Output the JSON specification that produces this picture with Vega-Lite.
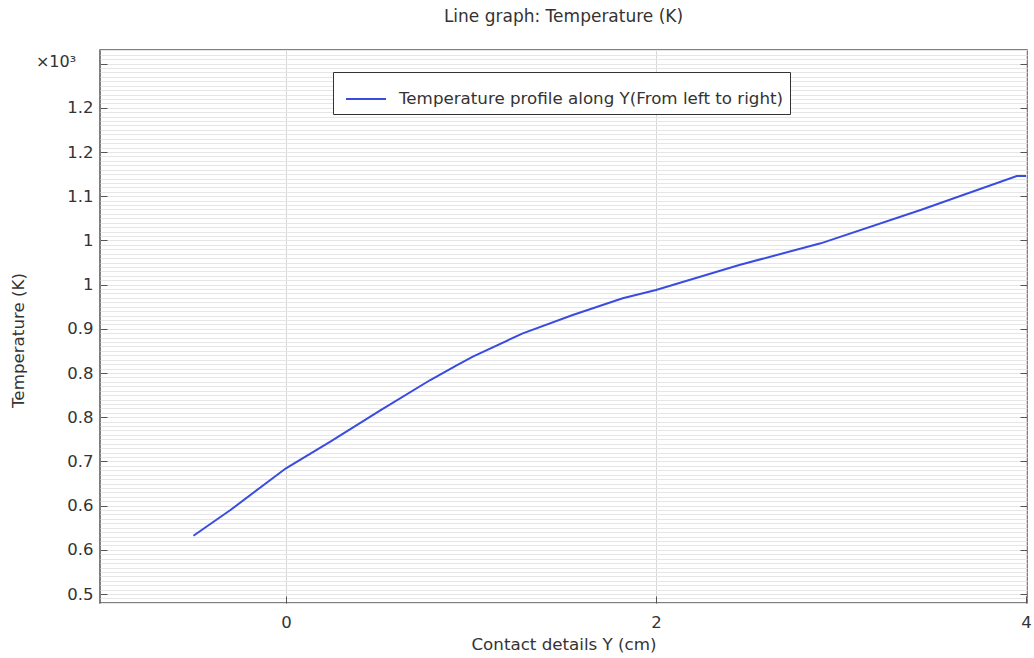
{
  "$schema": "https://vega.github.io/schema/vega-lite/v6.json",
  "width": 927,
  "height": 553,
  "autosize": "none",
  "padding": {"left": 100, "top": 50, "right": 7, "bottom": 55},
  "background": "white",
  "config": {
    "view": {"stroke": "#555", "strokeWidth": 1.5},
    "font": "DejaVu Sans"
  },
  "title": {
    "text": "Line graph: Temperature (K)",
    "fontSize": 17,
    "font": "DejaVu Sans",
    "fontWeight": "normal",
    "color": "#333",
    "offset": 16
  },
  "resolve": {"axis": {"y": "independent"}},
  "layer": [
    {
      "data": {
        "values": [
          {"y_cm": -0.5, "temperature_K": 585.7},
          {"y_cm": -0.3, "temperature_K": 623.5},
          {"y_cm": 0.0, "temperature_K": 684.9},
          {"y_cm": 0.24, "temperature_K": 724.0},
          {"y_cm": 0.51, "temperature_K": 770.0},
          {"y_cm": 0.78, "temperature_K": 814.7},
          {"y_cm": 0.92, "temperature_K": 836.0},
          {"y_cm": 1.01, "temperature_K": 849.0},
          {"y_cm": 1.28, "temperature_K": 883.4},
          {"y_cm": 1.55, "temperature_K": 910.3},
          {"y_cm": 1.82, "temperature_K": 934.9},
          {"y_cm": 2.0, "temperature_K": 947.1},
          {"y_cm": 2.45, "temperature_K": 983.9},
          {"y_cm": 2.89, "temperature_K": 1015.7},
          {"y_cm": 3.43, "temperature_K": 1064.8},
          {"y_cm": 3.95, "temperature_K": 1114.7},
          {"y_cm": 4.0, "temperature_K": 1114.7}
        ]
      },
      "mark": {"type": "line", "strokeWidth": 2},
      "encoding": {
        "x": {
          "field": "y_cm",
          "type": "quantitative",
          "scale": {"domain": [-1.005, 4.005], "nice": false, "zero": false},
          "axis": {
            "title": "Contact details Y (cm)",
            "values": [0, 2, 4],
            "format": "~g",
            "grid": true,
            "gridColor": "#d8d8d8",
            "tickSize": -7,
            "tickColor": "#555",
            "domain": false,
            "labelPadding": 18,
            "labelFontSize": 16.5,
            "labelColor": "#333",
            "labelFlush": false,
            "titleFontSize": 16.7,
            "titleFontWeight": "normal",
            "titleColor": "#333",
            "titlePadding": 6
          }
        },
        "y": {
          "field": "temperature_K",
          "type": "quantitative",
          "scale": {"domain": [486.8, 1300], "nice": false, "zero": false},
          "axis": {
            "title": "Temperature (K)",
            "orient": "left",
            "values": [487, 493.5, 500, 506.5, 513, 519.5, 526, 532.5, 539, 545.5, 552, 558.5, 565, 571.5, 578, 584.5, 591, 597.5, 604, 610.5, 617, 623.5, 630, 636.5, 643, 649.5, 656, 662.5, 669, 675.5, 682, 688.5, 695, 701.5, 708, 714.5, 721, 727.5, 734, 740.5, 747, 753.5, 760, 766.5, 773, 779.5, 786, 792.5, 799, 805.5, 812, 818.5, 825, 831.5, 838, 844.5, 851, 857.5, 864, 870.5, 877, 883.5, 890, 896.5, 903, 909.5, 916, 922.5, 929, 935.5, 942, 948.5, 955, 961.5, 968, 974.5, 981, 987.5, 994, 1000.5, 1007, 1013.5, 1020, 1026.5, 1033, 1039.5, 1046, 1052.5, 1059, 1065.5, 1072, 1078.5, 1085, 1091.5, 1098, 1104.5, 1111, 1117.5, 1124, 1130.5, 1137, 1143.5, 1150, 1156.5, 1163, 1169.5, 1176, 1182.5, 1189, 1195.5, 1202, 1208.5, 1215, 1221.5, 1228, 1234.5, 1241, 1247.5, 1254, 1260.5, 1267, 1273.5, 1280, 1286.5, 1293, 1299.5],
            "grid": true,
            "gridColor": "#e6e6e6",
            "gridWidth": 1,
            "tickSize": -7,
            "tickColor": {
              "condition": {"test": "abs((datum.value-500)/65 - round((datum.value-500)/65)) < 0.01", "value": "#555"},
              "value": "transparent"
            },
            "domain": false,
            "labelExpr": "abs((datum.value-500)/65 - round((datum.value-500)/65)) < 0.01 ? ['0.5','0.6','0.6','0.7','0.8','0.8','0.9','1','1','1.1','1.2','1.2',''][round((datum.value-500)/65)] : ''",
            "labelOverlap": false,
            "labelBound": false,
            "labelPadding": 14,
            "labelFontSize": 16.5,
            "labelColor": "#333",
            "titleFontSize": 16.7,
            "titleFontWeight": "normal",
            "titleColor": "#333",
            "titleX": -82,
            "titleY": 290,
            "titleBaseline": "middle"
          }
        },
        "color": {
          "datum": "Temperature profile along Y(From left to right)",
          "type": "nominal",
          "scale": {"range": ["#3a4ce0"]},
          "legend": {
            "title": null,
            "orient": "none",
            "legendX": 233,
            "legendY": 22,
            "fillColor": "white",
            "strokeColor": "#333",
            "padding": 6,
            "symbolOffset": 6,
            "cornerRadius": 0,
            "symbolType": "stroke",
            "symbolSize": 1600,
            "symbolStrokeWidth": 2,
            "labelFontSize": 16.7,
            "labelColor": "#333",
            "labelOffset": 12,
            "labelLimit": 600
          }
        }
      }
    },
    {
      "data": {"values": [{"label": "×10³"}]},
      "mark": {"type": "text", "fontSize": 16, "color": "#333", "align": "center", "baseline": "middle", "dx": -44, "dy": 12},
      "encoding": {
        "text": {"field": "label", "type": "nominal"},
        "x": {"datum": -1.005, "type": "quantitative"},
        "y": {
          "datum": 1300,
          "type": "quantitative",
          "axis": {
            "orient": "right",
            "title": null,
            "values": [500, 565, 630, 695, 760, 825, 890, 955, 1020, 1085, 1150, 1215, 1280],
            "labels": false,
            "grid": false,
            "domain": false,
            "tickSize": -7,
            "tickColor": "#555"
          }
        }
      }
    }
  ]
}
